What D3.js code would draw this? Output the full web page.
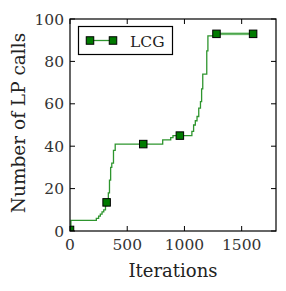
<!DOCTYPE html>
<html><head><meta charset="utf-8">
<script src="https://cdn.jsdelivr.net/npm/d3@7"></script>
<style>body{margin:0;background:#fff}svg{display:block}</style>
</head><body>
<script>
// Curve (step) data
const iterations = [0,8,210,230,250,265,280,295,310,322,335,345,355,365,380,395,800,810,880,900,1050,1065,1080,1095,1110,1125,1140,1150,1160,1185,1195,1205,1270,1610];
const lpCalls    = [1,5,5,6,7,8,9,10,12,14,18,24,30,32,38,41,41,43,44,45,45,47,50,52,54,58,61,67,74,74,85,92,93,93];
// Marker positions
const markerIter = [0,320,640,960,1280,1600];
const markerVal  = [0.5,13.5,41,45,93,93];
const xTicks = [0,500,1000,1500];
const yTicks = [0,20,40,60,80,100];
const seriesName = "LCG";

const W=286,H=291, m={l:70,r:10,t:19,b:60};
const svg=d3.select("body").append("svg").attr("width",W).attr("height",H);
const x=d3.scaleLinear().domain([0,1800]).range([m.l,W-m.r]);
const y=d3.scaleLinear().domain([0,100]).range([H-m.b,m.t]);
const font="DejaVu Serif";
const green="#2e952e", fill="#007a00";

svg.append("defs").append("clipPath").attr("id","clip").append("rect")
  .attr("x",x(0)).attr("y",y(100)).attr("width",x(1800)-x(0)).attr("height",y(0)-y(100));
const plot=svg.append("g").attr("clip-path","url(#clip)");

const pts=iterations.map((d,i)=>[d,lpCalls[i]]);
const last=pts.slice(pts.length-2);
plot.append("path").datum(last).attr("fill","none").attr("stroke","#a9d9a9").attr("stroke-width",3)
  .attr("d",d3.line().x(d=>x(d[0])).y(d=>y(d[1])));
plot.append("path").datum(pts).attr("fill","none").attr("stroke",green).attr("stroke-width",1.3)
  .attr("d",d3.line().curve(d3.curveStepAfter).x(d=>x(d[0])).y(d=>y(d[1])));

const ms=7.5;
plot.selectAll("rect.mk").data(markerIter.map((d,i)=>[d,markerVal[i]])).join("rect").attr("class","mk")
  .attr("x",d=>x(d[0])-ms/2).attr("y",d=>y(d[1])-ms/2).attr("width",ms).attr("height",ms)
  .attr("fill",fill).attr("stroke","#000").attr("stroke-width",1);

// frame
const g=svg.append("g");
g.append("rect").attr("x",x(0)).attr("y",y(100)).attr("width",x(1800)-x(0)).attr("height",y(0)-y(100))
 .attr("fill","none").attr("stroke","#000").attr("stroke-width",1.2);
const tl=5;
xTicks.forEach(t=>{
  g.append("line").attr("x1",x(t)).attr("x2",x(t)).attr("y1",y(0)).attr("y2",y(0)-tl).attr("stroke","#000");
  g.append("line").attr("x1",x(t)).attr("x2",x(t)).attr("y1",y(100)).attr("y2",y(100)+tl).attr("stroke","#000");
  g.append("text").attr("x",x(t)).attr("y",y(0)+19).attr("text-anchor","middle")
   .attr("font-family",font).attr("font-size",15.5).attr("fill","#333").text(t);
});
yTicks.forEach(t=>{
  g.append("line").attr("x1",x(0)).attr("x2",x(0)+tl).attr("y1",y(t)).attr("y2",y(t)).attr("stroke","#000");
  g.append("line").attr("x1",x(1800)).attr("x2",x(1800)-tl).attr("y1",y(t)).attr("y2",y(t)).attr("stroke","#000");
  g.append("text").attr("x",x(0)-6).attr("y",y(t)).attr("dy","0.36em").attr("text-anchor","end")
   .attr("font-family",font).attr("font-size",15.5).attr("fill","#333").text(t);
});

// axis labels
svg.append("text").attr("x",(x(0)+x(1800))/2).attr("y",277).attr("text-anchor","middle")
  .attr("font-family",font).attr("font-size",18).attr("fill","#222").text("Iterations");
svg.append("text").attr("transform",`translate(25,${(y(0)+y(100))/2-2}) rotate(-90)`).attr("text-anchor","middle")
  .attr("font-family",font).attr("font-size",18.5).attr("fill","#222").text("Number of LP calls");

// legend
const lg=svg.append("g");
lg.append("rect").attr("x",78.5).attr("y",26.5).attr("width",94).attr("height",28)
  .attr("fill","#fff").attr("stroke","#000").attr("stroke-width",1.2);
lg.append("line").attr("x1",90).attr("x2",113).attr("y1",40.5).attr("y2",40.5).attr("stroke",green).attr("stroke-width",1.3);
[90,113].forEach(cx=>lg.append("rect").attr("x",cx-ms/2).attr("y",40.5-ms/2).attr("width",ms).attr("height",ms)
  .attr("fill",fill).attr("stroke","#000"));
lg.append("text").attr("x",130).attr("y",46.5).attr("font-family",font).attr("font-size",15.5).attr("fill","#222").text(seriesName);
</script>
</body></html>
